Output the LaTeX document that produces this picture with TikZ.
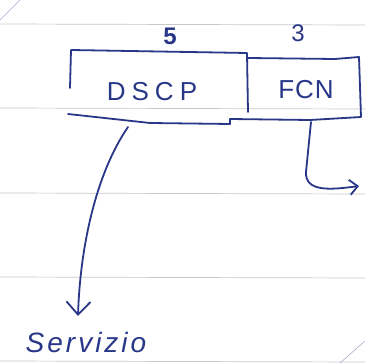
\documentclass[tikz,border=0pt]{standalone}
\usepackage{fontspec}
\setmainfont{Liberation Sans}
\usetikzlibrary{arrows.meta}
\definecolor{ink}{RGB}{40,55,135}
\definecolor{rule}{RGB}{200,200,200}
\tikzset{
  pen/.style={draw=ink, line width=1.8pt, line cap=round, line join=round},
  ruling/.style={draw=rule, line width=0.7pt},
  hand/.style={text=ink, inner sep=1pt},
  bigtip/.style={-{Straight Barb[length=13pt,width=24pt,line width=1.8pt]}},
  smalltip/.style={-{Straight Barb[length=8pt,width=15pt,line width=1.8pt]}}
}
\begin{document}
\begin{tikzpicture}[x=1pt,y=-1pt]
  \useasboundingbox (0,0) rectangle (365,363);
  \fill[white] (0,0) rectangle (365,363);
  % ruled paper
  \foreach \yy in {24,108,193,277,361}
    \draw[ruling] (0,\yy) -- (365,\yy+1);
  \draw[draw=ink!40, line width=0.6pt] (0,20) -- (20,0);
  \draw[draw=ink!40, line width=0.6pt] (340,363) -- (365,341);
  % header box: DSCP (5 bits) | FCN (3 bits)
  \draw[pen] (70,88) -- (71,50) -- (247,53) -- (248,112);
  \draw[pen] (248,58) -- (335,59) -- (359,57) -- (361,117) -- (310,120) -- (230,119) -- (230,124) -- (150,123) -- (68,114);
  \node[hand, font=\fontsize{24}{24}\selectfont\bfseries] (five) at (170,36) {5};
  \node[hand, font=\fontsize{24}{24}\selectfont] (three) at (298,33) {3};
  \node[hand, font=\fontsize{26}{26}\selectfont] (dscp) at (152,92) {D\hspace{6pt}S\hspace{6pt}C\hspace{6pt}P};
  \node[hand, font=\fontsize{26}{26}\selectfont] (fcn) at (306,90) {F\hspace{1pt}C\hspace{1pt}N};
  \node[hand, font=\fontsize{28}{28}\selectfont\itshape] (serv) at (86,342) {S\hspace{3pt}e\hspace{3pt}r\hspace{3pt}v\hspace{3pt}i\hspace{3pt}z\hspace{3pt}i\hspace{3pt}o};
  \coordinate (fcnout) at (359,186);
  % connectors
  \draw[pen, bigtip] (128,127) .. controls (95,175) and (80,250) .. (78,316);
  \draw[pen, smalltip] (311,122) -- (306,172) .. controls (305,192) and (330,190) .. (fcnout);
\end{tikzpicture}
\end{document}
